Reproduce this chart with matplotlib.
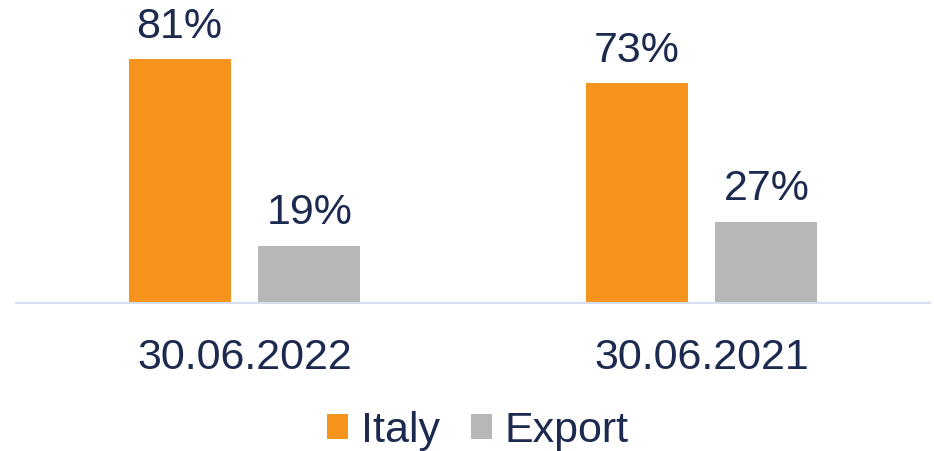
import numpy as np
from matplotlib import pyplot as plt

dates = ["30.06.2022", "30.06.2021"]
italy = [81, 73]
export = [19, 27]

ORANGE = "#F7941D"
GREY = "#B7B7B7"
NAVY = "#1C2A4F"

plt.rcParams['font.family'] = ['Liberation Sans', 'DejaVu Sans']

fig = plt.figure(figsize=(9.34, 4.51), dpi=100)
ax = fig.add_axes([16 / 934, 148 / 451, 914 / 934, 301 / 451])

x = np.arange(len(dates))
w = 0.223
b1 = ax.bar(x - 0.142, italy, w, color=ORANGE, label="Italy")
b2 = ax.bar(x + 0.142, export, w, color=GREY, label="Export")

# percentage labels above the bars
for bars in (b1, b2):
    ax.bar_label(bars, labels=[f"{v}%" for v in bars.datavalues],
                 padding=9, fontsize=31, color=NAVY)

ax.set_xlim(-0.5, 1.5)
ax.set_ylim(0, 100)
ax.set_xticks(x)
ax.set_xticklabels(dates, fontsize=31, color=NAVY)
ax.tick_params(axis='x', length=0, pad=25)
ax.set_yticks([])

for side in ['left', 'right', 'top']:
    ax.spines[side].set_visible(False)
ax.spines['bottom'].set_color("#D6DFF0")
ax.spines['bottom'].set_linewidth(1.5)

leg = fig.legend(loc='center', bbox_to_anchor=(478 / 934, 20 / 451), ncol=2,
                 frameon=False, fontsize=31, handlelength=0.5, handleheight=0.5,
                 handletextpad=0.3, columnspacing=0.7)
for t in leg.get_texts():
    t.set_color(NAVY)

plt.savefig("out.png", dpi=100)
